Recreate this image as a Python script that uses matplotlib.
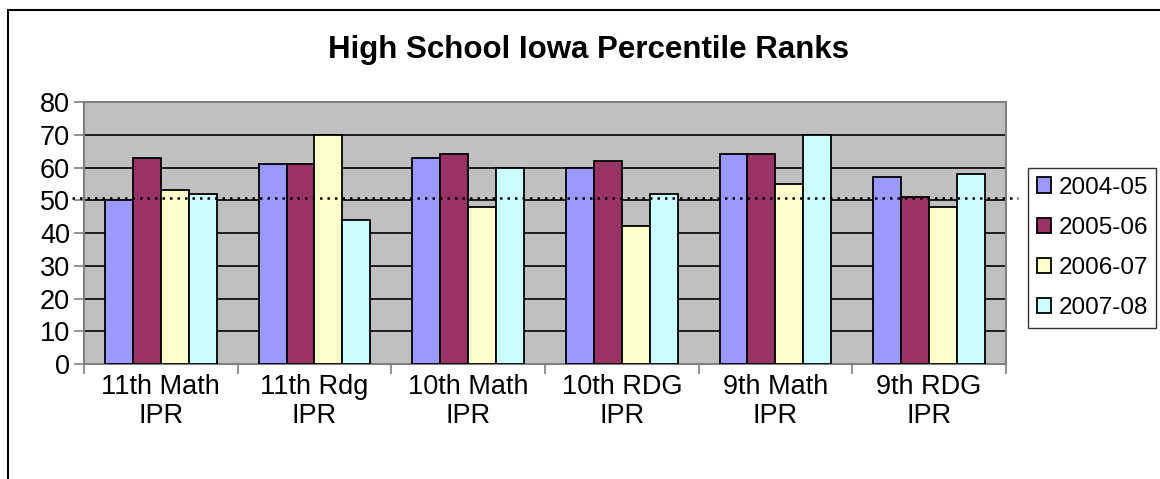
import matplotlib.pyplot as plt
import matplotlib.transforms as mtransforms
from matplotlib.patches import Rectangle
import numpy as np

plt.rcParams['font.family'] = ['Liberation Sans', 'DejaVu Sans']

categories = ["11th Math\nIPR", "11th Rdg\nIPR", "10th Math\nIPR", "10th RDG\nIPR", "9th Math\nIPR", "9th RDG\nIPR"]
years = ["2004-05", "2005-06", "2006-07", "2007-08"]
y2004 = [50, 61, 63, 60, 64, 57]
y2005 = [63, 61, 64, 62, 64, 51]
y2006 = [53, 70, 48, 42, 55, 48]
y2007 = [52, 44, 60, 52, 70, 58]
target = 50.7
colors = ["#9999FF", "#993366", "#FFFFCC", "#CCFFFF"]

fig = plt.figure(figsize=(11.6, 4.79), dpi=100)
ax = fig.add_axes([0.0724, 0.240, 0.7948, 0.547])
ax.set_facecolor("#C0C0C0")

x = np.arange(len(categories))
w = 0.182
series = [y2004, y2005, y2006, y2007]
for i, vals in enumerate(series):
    ax.bar(x + (i - 1.5) * w, vals, w, color=colors[i], edgecolor="black",
           linewidth=1.3, label=years[i], zorder=3)

ax.set_xlim(-0.5, len(categories) - 0.5)
ax.set_ylim(0, 80)
ax.set_yticks(range(0, 81, 10))
ax.yaxis.grid(True, color="black", linewidth=1.2, zorder=1)
ax.set_axisbelow(True)
ax.set_xticks(x)
ax.set_xticklabels(categories, fontsize=19.5, linespacing=1.15)
ax.set_xticks(np.arange(-0.5, len(categories), 1), minor=True)
ax.tick_params(axis="x", which="major", length=0, pad=7)
ax.tick_params(axis="x", which="minor", length=7, color="#808080", width=1.2)
ax.tick_params(axis="y", labelsize=19.5, length=7, color="#808080", width=1.2, pad=3)
for s in ["top", "right", "left", "bottom"]:
    ax.spines[s].set_color("#808080")
    ax.spines[s].set_linewidth(1.5)

# dotted reference line spanning past the plot area
trans = mtransforms.blended_transform_factory(fig.transFigure, ax.transData)
ax.plot([72 / 1160, 1018 / 1160], [target, target], transform=trans, color="black",
        linestyle=(0, (1, 2)), linewidth=1.8, clip_on=False, zorder=5)

fig.text(0.507, 0.895, "High School Iowa Percentile Ranks", ha="center", va="center",
         fontsize=22.5, fontweight="bold")

leg = ax.legend(loc="center left", bbox_to_anchor=(1028 / 1160, 1 - 248 / 479), bbox_transform=fig.transFigure,
                fontsize=17.5, frameon=True, fancybox=False, edgecolor="black",
                handlelength=0.6, handleheight=0.6, handletextpad=0.3, labelspacing=0.75,
                borderpad=0.35, borderaxespad=0)
leg.get_frame().set_linewidth(1.0)
fig.patches.append(Rectangle((8 / 1160, -0.05), 1.1, 0.05 + (479 - 10) / 479, transform=fig.transFigure,
                             fill=False, edgecolor="black", linewidth=1.5))

fig.savefig("out.png", dpi=100)
